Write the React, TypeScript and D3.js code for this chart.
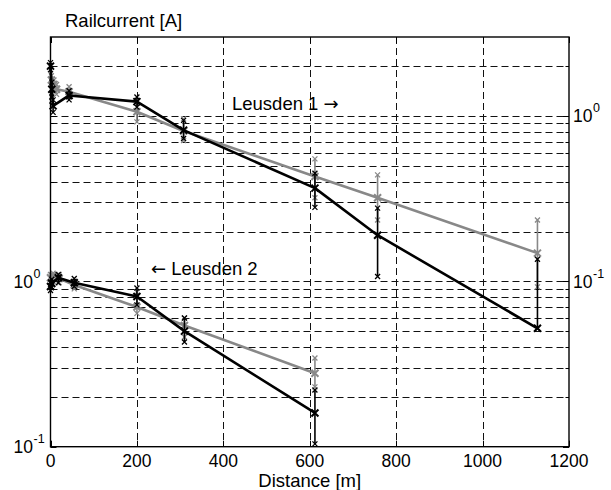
import React, { useRef, useEffect } from "react";
import * as d3 from "d3";

// distances [m]
const upperBlackDist = [0, 3, 6, 43, 200, 308, 612, 757, 1127];
const upperGrayDist = [2, 8, 14, 43, 200, 308, 612, 757, 1127];
const lowerBlackDist = [0, 3, 18, 55, 200, 310, 612];
const lowerGrayDist = [0, 6, 20, 55, 200, 310, 612];

// Leusden 1 (right axis)
const upperBlack = [2.0, 1.45, 1.15, 1.33, 1.22, 0.82, 0.366, 0.19, 0.052];
const upperBlackLo = [1.9, 1.3, 1.05, 1.25, 1.13, 0.73, 0.28, 0.107, 0.052];
const upperBlackHi = [2.1, 1.6, 1.25, 1.42, 1.3, 0.94, 0.45, 0.277, 0.136];
const upperGray = [1.65, 1.55, 1.45, 1.4, 1.06, 0.81, 0.43, 0.32, 0.148];
const upperGrayLo = [1.55, 1.45, 1.35, 1.3, 0.92, 0.71, 0.32, 0.235, 0.0925];
const upperGrayHi = [1.75, 1.65, 1.55, 1.5, 1.13, 0.96, 0.55, 0.44, 0.235];

// Leusden 2 (left axis)
const lowerBlack = [0.93, 0.97, 1.05, 0.98, 0.81, 0.5, 0.16];
const lowerBlackLo = [0.88, 0.92, 0.98, 0.93, 0.72, 0.43, 0.104];
const lowerBlackHi = [0.99, 1.03, 1.1, 1.04, 0.91, 0.6, 0.22];
const lowerGray = [1.05, 1.08, 1.04, 0.95, 0.7, 0.54, 0.278];
const lowerGrayLo = [0.98, 1.0, 0.98, 0.9, 0.64, 0.46, 0.23];
const lowerGrayHi = [1.1, 1.12, 1.1, 1.0, 0.86, 0.6, 0.344];

const xTicks = [0, 200, 400, 600, 800, 1000, 1200];

const FONT = "Liberation Sans, Arial, Helvetica, sans-serif";

const App = () => {
  const ref = useRef(null);

  useEffect(() => {
    d3.select(ref.current).selectAll("*").remove();

    const W = 611,
      H = 490;
    const left = 50.5,
      right = 569,
      top = 37,
      bottom = 446.7;

    const svg = d3
      .select(ref.current)
      .append("svg")
      .attr("width", W)
      .attr("height", H)
      .style("position", "absolute")
      .style("left", 0)
      .style("top", 0)
      .style("font-family", FONT);

    svg.append("rect").attr("width", W).attr("height", H).attr("fill", "white");

    const x = d3.scaleLinear().domain([0, 1200]).range([left, right]);
    const yL = d3.scaleLog().domain([0.1, 30]).range([bottom, top]);
    const yR = d3.scaleLog().domain([0.01, 3]).range([bottom, top]);

    // grid
    const gridVals = [];
    [0.1, 1, 10].forEach((d) => {
      for (let m = 1; m <= 9; m++) {
        const v = m * d;
        if (v > 0.1 && v < 30) gridVals.push(v);
      }
    });

    const grid = svg.append("g").attr("stroke", "#111").attr("stroke-width", 1).attr("stroke-dasharray", "7,4");
    grid
      .selectAll(".hg")
      .data(gridVals)
      .enter()
      .append("line")
      .attr("x1", left)
      .attr("x2", right)
      .attr("y1", (d) => Math.round(yL(d)) + 0.5)
      .attr("y2", (d) => Math.round(yL(d)) + 0.5);
    grid
      .selectAll(".vg")
      .data(xTicks.slice(1, -1))
      .enter()
      .append("line")
      .attr("x1", (d) => Math.round(x(d)) + 0.5)
      .attr("x2", (d) => Math.round(x(d)) + 0.5)
      .attr("y1", top)
      .attr("y2", bottom);

    // ticks
    const ticks = svg.append("g").attr("stroke", "black").attr("stroke-width", 1);
    gridVals.concat([0.1]).forEach((v) => {
      const major = v === 0.1 || v === 1 || v === 10;
      const len = major ? 6 : 3.5;
      const yy = Math.round(yL(v)) + 0.5;
      ticks.append("line").attr("x1", left).attr("x2", left + len).attr("y1", yy).attr("y2", yy);
      ticks.append("line").attr("x1", right).attr("x2", right - len).attr("y1", yy).attr("y2", yy);
    });
    xTicks.forEach((t) => {
      const xx = Math.round(x(t)) + 0.5;
      ticks.append("line").attr("x1", xx).attr("x2", xx).attr("y1", bottom).attr("y2", bottom - 6);
      ticks.append("line").attr("x1", xx).attr("x2", xx).attr("y1", top).attr("y2", top + 6);
    });

    const xMark = (s) => `M${-s},${-s}L${s},${s}M${-s},${s}L${s},${-s}`;

    const drawSeries = (dist, vals, lo, hi, y, color) => {
      const g = svg.append("g");
      const line = d3
        .line()
        .x((d, i) => x(dist[i]))
        .y((d) => y(d));
      g.append("path")
        .attr("d", line(vals))
        .attr("fill", "none")
        .attr("stroke", color)
        .attr("stroke-width", 2.6)
        .attr("stroke-linejoin", "round");

      dist.forEach((dd, i) => {
        g.append("line")
          .attr("x1", x(dd))
          .attr("x2", x(dd))
          .attr("y1", y(lo[i]))
          .attr("y2", y(hi[i]))
          .attr("stroke", color)
          .attr("stroke-width", 1.6);
        [lo[i], hi[i]].forEach((v) => {
          g.append("path")
            .attr("d", xMark(2.5))
            .attr("transform", `translate(${x(dd)},${y(v)})`)
            .attr("stroke", color)
            .attr("stroke-width", 1.3);
        });
        g.append("path")
          .attr("d", xMark(3.5))
          .attr("transform", `translate(${x(dd)},${y(vals[i])})`)
          .attr("stroke", color)
          .attr("stroke-width", 2);
      });
    };

    drawSeries(upperGrayDist, upperGray, upperGrayLo, upperGrayHi, yR, "#888");
    drawSeries(upperBlackDist, upperBlack, upperBlackLo, upperBlackHi, yR, "#000");
    drawSeries(lowerGrayDist, lowerGray, lowerGrayLo, lowerGrayHi, yL, "#888");
    drawSeries(lowerBlackDist, lowerBlack, lowerBlackLo, lowerBlackHi, yL, "#000");

    // box
    svg
      .append("rect")
      .attr("x", left)
      .attr("y", top)
      .attr("width", right - left)
      .attr("height", bottom - top)
      .attr("fill", "none")
      .attr("stroke", "black")
      .attr("stroke-width", 1.4);

    // x tick labels
    svg
      .selectAll(".xl")
      .data(xTicks)
      .enter()
      .append("text")
      .attr("x", (d) => x(d))
      .attr("y", 467)
      .attr("text-anchor", "middle")
      .attr("font-size", 17.5)
      .text((d) => d);

    const powLabel = (xx, yy, exp, anchorEnd) => {
      const t = svg.append("text").attr("y", yy).attr("font-size", 17.5);
      if (anchorEnd) {
        t.attr("x", xx).attr("text-anchor", "end").text("10");
        svg
          .append("text")
          .attr("x", xx + 0.5)
          .attr("y", yy - 10)
          .attr("font-size", 12.5)
          .text(exp);
      } else {
        t.attr("x", xx).text("10");
        svg
          .append("text")
          .attr("x", xx + 20)
          .attr("y", yy - 10)
          .attr("font-size", 12.5)
          .text(exp);
      }
    };

    powLabel(33, yL(1) + 6.5, "0", true);
    powLabel(33, yL(0.1) + 6.5, "-1", true);
    powLabel(573, yR(1) + 6.5, "0", false);
    powLabel(573, yR(0.1) + 6.5, "-1", false);

    svg
      .append("text")
      .attr("x", (left + right) / 2)
      .attr("y", 487)
      .attr("text-anchor", "middle")
      .attr("font-size", 18.5)
      .text("Distance [m]");

    svg.append("text").attr("x", 65).attr("y", 27).attr("font-size", 18.5).text("Railcurrent [A]");

    const l1 = svg.append("text").attr("x", 232).attr("y", 110).attr("font-size", 18.5);
    l1.append("tspan").text("Leusden 1 ");
    l1.append("tspan").attr("font-family", "DejaVu Sans").attr("font-size", 18).text("\u2192");

    const l2 = svg.append("text").attr("x", 151).attr("y", 275).attr("font-size", 18.5);
    l2.append("tspan").attr("font-family", "DejaVu Sans").attr("font-size", 18).text("\u2190");
    l2.append("tspan").text(" Leusden 2");
  }, []);

  return <div ref={ref}></div>;
};

export default App;
